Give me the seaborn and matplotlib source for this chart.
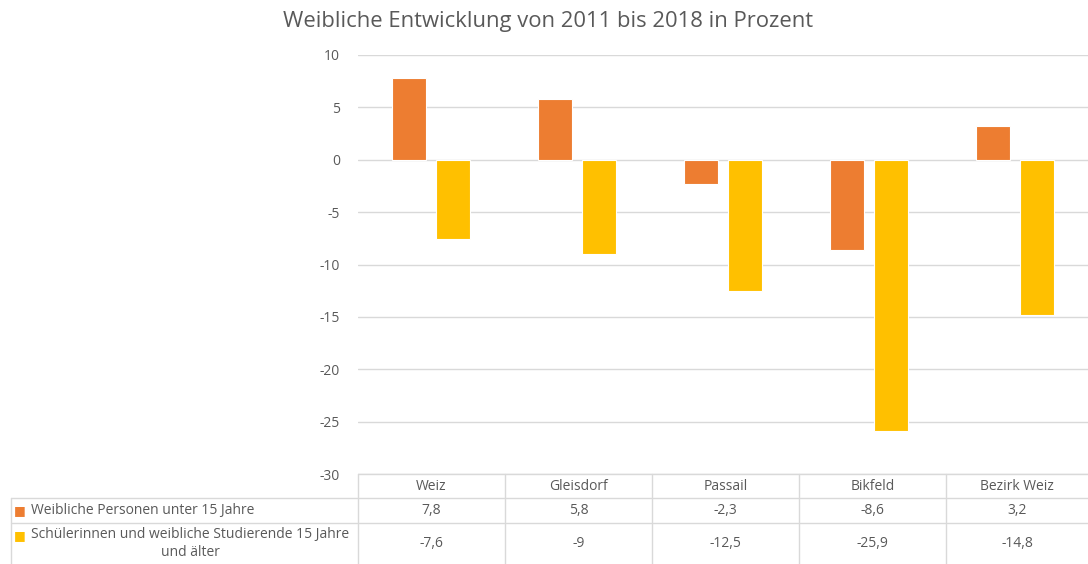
import numpy as np
import pandas as pd
import seaborn as sns
import matplotlib
import matplotlib.pyplot as plt

matplotlib.use('Agg')

orte = ["Weiz", "Gleisdorf", "Passail", "Bikfeld", "Bezirk Weiz"]
unter_15 = [7.8, 5.8, -2.3, -8.6, 3.2]
ab_15 = [-7.6, -9.0, -12.5, -25.9, -14.8]
serien = ["Weibliche Personen unter 15 Jahre",
          "Schülerinnen und weibliche Studierende 15 Jahre\nund älter"]
farben = ["#ED7D31", "#FFC000"]
y_ticks = [10, 5, 0, -5, -10, -15, -20, -25, -30]

df = pd.DataFrame({
    "ort": orte * 2,
    "wert": unter_15 + ab_15,
    "serie": [serien[0]] * len(orte) + [serien[1]] * len(orte),
})

sns.set_style("white")
plt.rcParams['font.family'] = ['Open Sans', 'DejaVu Sans']
grau = "#595959"
linie = "#D9D9D9"

fig = plt.figure(figsize=(10.88, 5.64), dpi=100)
ax = fig.add_axes([358 / 1088, 1 - 474 / 564, 730 / 1088, 419 / 564])

sns.barplot(data=df, x="ort", y="wert", hue="serie", order=orte,
            hue_order=serien, palette=farben, saturation=1,
            width=0.59, gap=0.21, edgecolor="white", linewidth=0.8,
            ax=ax, legend=False)

ax.set_ylim(-30, 10)
ax.set_xlim(-0.5, len(orte) - 0.5)
ax.set_yticks(y_ticks)
ax.set_yticklabels([str(t) for t in y_ticks], color=grau, fontsize=10)
ax.tick_params(axis='y', length=0, pad=13)
ax.set_xticks([])
ax.set_xlabel("")
ax.set_ylabel("")
for s in ax.spines.values():
    s.set_visible(False)
ax.grid(axis='y', color=linie, linewidth=1)
ax.set_axisbelow(True)

fig.text(0.504, 1 - 21 / 564, "Weibliche Entwicklung von 2011 bis 2018 in Prozent",
         ha='center', va='center', fontsize=15.8, color=grau)

# Datentabelle unter dem Diagramm (Pixelkoordinaten)
def px(x, y):
    return x / 1088, 1 - y / 564

spalten = [358, 505, 652, 799, 946, 1088]
zeilen = [474, 498, 523, 564]

fig.add_artist(plt.Line2D(*zip(px(358, zeilen[0]), px(1088, zeilen[0])), color=linie, lw=1))
for yy in zeilen[1:3]:
    fig.add_artist(plt.Line2D(*zip(px(11, yy), px(1088, yy)), color=linie, lw=1))
fig.add_artist(plt.Line2D(*zip(px(11, zeilen[1]), px(11, 564)), color=linie, lw=1))
for xx in spalten[:-1]:
    fig.add_artist(plt.Line2D(*zip(px(xx, zeilen[0]), px(xx, 564)), color=linie, lw=1))

werte = [unter_15, ab_15]
for i, ort in enumerate(orte):
    xc = (spalten[i] + spalten[i + 1]) / 2
    fig.text(*px(xc, 487), ort, ha='center', va='center', fontsize=10, color=grau)
    for j, reihe in enumerate(werte):
        yc = (zeilen[j + 1] + zeilen[j + 2]) / 2
        txt = f"{reihe[i]:g}".replace(".", ",")
        fig.text(*px(xc, yc), txt, ha='center', va='center', fontsize=10, color=grau)

for j, name in enumerate(serien):
    yc = (zeilen[j + 1] + zeilen[j + 2]) / 2
    fig.text(*px(14, yc if j == 0 else 536), "\u25A0", ha='left', va='center',
             fontsize=9, color=farben[j])
    fig.text(*px(31, yc), name, ha='left', va='center', multialignment='center',
             fontsize=10, color=grau, linespacing=1.25)

fig.savefig("out.png", dpi=100)
